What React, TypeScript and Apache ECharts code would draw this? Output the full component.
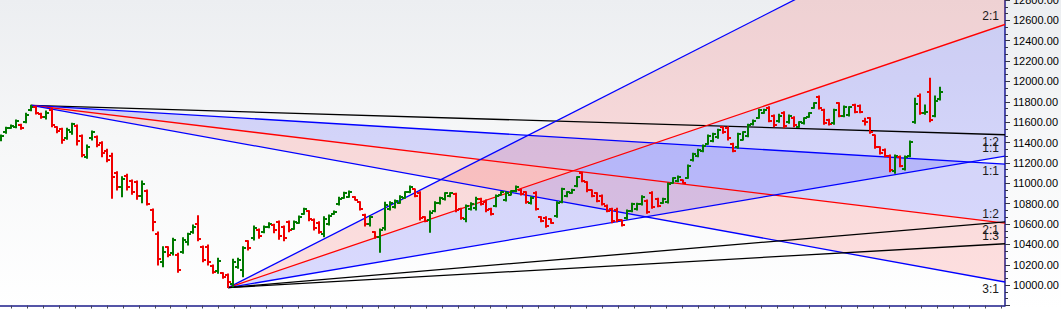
import { useEffect, useRef } from 'react';
import * as echarts from 'echarts';

// [open, high, low, close] per trading bar
const ohlc: number[][] = [
  [11425, 11474, 11418, 11465], [11500, 11550, 11491, 11540], [11545, 11573, 11540, 11565], [11555, 11622, 11546, 11610],
  [11570, 11579, 11530, 11540], [11600, 11687, 11595, 11675], [11720, 11766, 11713, 11750], [11745, 11752, 11681, 11690],
  [11680, 11687, 11638, 11650], [11650, 11710, 11631, 11690], [11720, 11737, 11556, 11570], [11550, 11556, 11497, 11510],
  [11530, 11540, 11393, 11430], [11440, 11540, 11432, 11520], [11500, 11589, 11481, 11580], [11560, 11573, 11376, 11420],
  [11460, 11474, 11261, 11280], [11260, 11376, 11245, 11360], [11440, 11514, 11425, 11500], [11455, 11464, 11359, 11380],
  [11400, 11408, 11261, 11300], [11320, 11334, 11212, 11230], [11270, 11295, 10853, 11060], [11100, 11114, 10934, 10960],
  [10960, 11065, 10868, 11040], [11070, 11088, 10934, 10960], [11020, 11032, 10892, 10910], [11010, 11023, 10843, 10880],
  [10880, 11023, 10810, 10990], [10920, 10934, 10787, 10800], [10740, 10748, 10535, 10620], [10500, 10522, 10198, 10260],
  [10230, 10377, 10181, 10330], [10370, 10377, 10279, 10300], [10320, 10460, 10296, 10440], [10300, 10313, 10126, 10150],
  [10330, 10466, 10313, 10440], [10420, 10509, 10394, 10500], [10520, 10590, 10509, 10570], [10600, 10682, 10436, 10450],
  [10370, 10384, 10230, 10250], [10370, 10394, 10198, 10230], [10190, 10198, 10116, 10130], [10140, 10263, 10116, 10240],
  [10120, 10122, 10067, 10080], [10100, 10109, 9976, 10030], [10010, 10254, 9985, 10230], [10180, 10263, 10165, 10250],
  [10150, 10377, 10083, 10360], [10430, 10436, 10345, 10360], [10460, 10581, 10443, 10560], [10540, 10551, 10460, 10480],
  [10520, 10581, 10515, 10570], [10570, 10613, 10564, 10605], [10590, 10597, 10515, 10540], [10620, 10630, 10450, 10480],
  [10570, 10581, 10436, 10460], [10620, 10630, 10525, 10540], [10555, 10630, 10548, 10620], [10615, 10679, 10607, 10670],
  [10700, 10754, 10696, 10745], [10725, 10731, 10633, 10650], [10640, 10649, 10541, 10560], [10615, 10623, 10509, 10520],
  [10500, 10672, 10476, 10650], [10600, 10689, 10590, 10680], [10700, 10728, 10695, 10722], [10795, 10862, 10787, 10850],
  [10860, 10912, 10853, 10900], [10870, 10924, 10862, 10915], [10865, 10868, 10836, 10840], [10815, 10819, 10738, 10750],
  [10690, 10696, 10581, 10600], [10600, 10679, 10581, 10670], [10520, 10525, 10460, 10470], [10470, 10551, 10322, 10540],
  [10560, 10813, 10541, 10790], [10750, 10819, 10738, 10810], [10770, 10836, 10757, 10825], [10810, 10878, 10804, 10870],
  [10860, 10917, 10852, 10910], [10915, 10973, 10908, 10965], [10940, 10944, 10868, 10880], [10900, 10917, 10640, 10660],
  [10670, 10672, 10623, 10630], [10640, 10728, 10519, 10710], [10730, 10819, 10721, 10810], [10805, 10862, 10797, 10855],
  [10845, 10908, 10836, 10900], [10875, 10908, 10868, 10905], [10895, 10902, 10721, 10740], [10750, 10754, 10646, 10660],
  [10650, 10787, 10623, 10780], [10745, 10810, 10738, 10800], [10760, 10862, 10738, 10850], [10850, 10853, 10787, 10800],
  [10820, 10836, 10721, 10740], [10750, 10754, 10689, 10700], [10780, 10885, 10770, 10875], [10890, 10917, 10885, 10910],
  [10840, 10917, 10826, 10905], [10890, 10927, 10885, 10920], [10920, 10973, 10917, 10965], [10935, 10941, 10885, 10895],
  [10910, 10917, 10804, 10820], [10805, 10868, 10797, 10860], [10900, 10917, 10738, 10750], [10665, 10672, 10623, 10630],
  [10660, 10672, 10568, 10580], [10645, 10649, 10607, 10615], [10675, 10819, 10666, 10810], [10820, 10951, 10810, 10940],
  [10875, 10917, 10868, 10910], [10905, 10941, 10902, 10935], [10975, 11065, 10967, 11060], [11100, 11108, 11016, 11020],
  [11010, 11016, 10917, 10930], [10930, 10934, 10868, 10875], [10900, 10908, 10819, 10830], [10880, 10885, 10787, 10800],
  [10780, 10787, 10721, 10730], [10745, 10754, 10613, 10630], [10740, 10754, 10623, 10640], [10635, 10640, 10581, 10595],
  [10655, 10738, 10646, 10730], [10730, 10804, 10721, 10795], [10745, 10804, 10738, 10795], [10795, 10878, 10787, 10870],
  [10830, 10836, 10705, 10720], [10905, 10917, 10754, 10770], [10845, 10853, 10770, 10780], [10810, 10853, 10804, 10845],
  [10815, 11003, 10807, 10990], [11005, 11055, 11000, 11050], [11020, 11072, 11016, 11065], [11030, 11032, 11000, 11005],
  [11055, 11180, 11049, 11170], [11225, 11295, 11219, 11285], [11270, 11334, 11261, 11325], [11320, 11376, 11310, 11370],
  [11390, 11474, 11383, 11465], [11415, 11491, 11408, 11485], [11450, 11530, 11442, 11520], [11550, 11556, 11491, 11500],
  [11545, 11556, 11425, 11440], [11385, 11393, 11310, 11320], [11360, 11491, 11344, 11480], [11430, 11507, 11425, 11500],
  [11465, 11579, 11458, 11570], [11580, 11622, 11573, 11615], [11645, 11727, 11638, 11720], [11690, 11727, 11687, 11720],
  [11740, 11752, 11605, 11615], [11660, 11671, 11556, 11570], [11610, 11678, 11599, 11665], [11695, 11703, 11546, 11560],
  [11600, 11671, 11589, 11665], [11645, 11654, 11556, 11570], [11555, 11605, 11550, 11600], [11590, 11644, 11582, 11640],
  [11650, 11693, 11648, 11690], [11740, 11792, 11736, 11785], [11845, 11857, 11730, 11740], [11720, 11727, 11579, 11590],
  [11620, 11628, 11573, 11580], [11590, 11727, 11579, 11720], [11785, 11792, 11654, 11665], [11665, 11759, 11654, 11750],
  [11670, 11752, 11661, 11745], [11770, 11776, 11693, 11700], [11760, 11769, 11693, 11705], [11610, 11638, 11573, 11600],
  [11640, 11644, 11491, 11500], [11470, 11474, 11344, 11355], [11355, 11359, 11288, 11295], [11330, 11337, 11261, 11270],
  [11270, 11278, 11114, 11130], [11120, 11278, 11098, 11270], [11260, 11268, 11163, 11170], [11140, 11268, 11131, 11260],
  [11270, 11415, 11261, 11405], [11600, 11835, 11589, 11780], [11860, 11877, 11678, 11690], [11690, 11769, 11678, 11700],
  [11900, 12031, 11605, 11620], [11665, 11857, 11654, 11810], [11830, 11943, 11818, 11900],
];

// Gann fan from the swing high (descending) and from the swing low (ascending)
const highPivotBar = 6;
const highPivotPrice = 11766;
const highUnit = 3.0; // price per bar for 1:1
const highFanRatios = ['1:2', '1:1', '2:1', '3:1'];
const highFanMultipliers = [0.5, 1, 2, 3];
const highFanBands = [['1:1', '2:1'], ['2:1', '3:1']];

const lowPivotBar = 45;
const lowPivotPrice = 9976;
const lowUnit = 8.4;
const lowFanRatios = ['3:1', '2:1', '1:1', '1:2', '1:3'];
const lowFanMultipliers = [3, 2, 1, 0.5, 0.3333];
const lowFanBands = [['3:1', '2:1'], ['2:1', '1:1']];

const yMin = 9800;
const yMax = 12800;
const yStep = 200;
const xMin = -0.2;
const xMax = 198.8;

// styles
const highLineColors = ['#000000', '#0000ff', '#ff0000', '#0000ff'];
const lowLineColors = ['#0000ff', '#ff0000', '#0000ff', '#000000', '#000000'];
const highBandFills = ['rgba(0,0,255,0.14)', 'rgba(255,0,0,0.12)'];
const lowBandFills = ['rgba(255,0,0,0.12)', 'rgba(0,0,255,0.14)'];
const UP = '#007a00';
const DOWN = '#f00000';

export default function App() {
  const ref = useRef<HTMLDivElement>(null);
  useEffect(() => {
    document.body.style.margin = '0';
    const chart = echarts.init(ref.current as HTMLDivElement, null, { renderer: 'svg' });

    const hEnd = (m: number) => highPivotPrice - m * highUnit * (xMax - highPivotBar);
    const lEnd = (m: number) => lowPivotPrice + m * lowUnit * (xMax - lowPivotBar);

    const lineData: number[][] = [];
    const lineMeta: { label: string; color: string; above: boolean }[] = [];
    highFanMultipliers.forEach((m, k) => {
      lineData.push([highPivotBar, highPivotPrice, xMax, hEnd(m)]);
      lineMeta.push({ label: highFanRatios[k], color: highLineColors[k], above: false });
    });
    lowFanMultipliers.forEach((m, k) => {
      lineData.push([lowPivotBar, lowPivotPrice, xMax, lEnd(m)]);
      lineMeta.push({ label: lowFanRatios[k], color: lowLineColors[k], above: true });
    });

    const bandData: number[][] = [];
    const bandFill: string[] = [];
    highFanBands.forEach((b, k) => {
      const a = highFanMultipliers[highFanRatios.indexOf(b[0])];
      const c = highFanMultipliers[highFanRatios.indexOf(b[1])];
      bandData.push([highPivotBar, highPivotPrice, xMax, hEnd(a), hEnd(c)]);
      bandFill.push(highBandFills[k]);
    });
    lowFanBands.forEach((b, k) => {
      const a = lowFanMultipliers[lowFanRatios.indexOf(b[0])];
      const c = lowFanMultipliers[lowFanRatios.indexOf(b[1])];
      bandData.push([lowPivotBar, lowPivotPrice, xMax, lEnd(a), lEnd(c)]);
      bandFill.push(lowBandFills[k]);
    });

    const xTicks: number[] = [];
    for (let k = 0; k < 64; k++) xTicks.push(1.98 + k * 3.1625);

    const option: any = {
      animation: false,
      backgroundColor: 'transparent',
      grid: { left: 0, right: 56, top: 0, bottom: 3.5, containLabel: false, outerBoundsMode: 'none' },
      xAxis: {
        type: 'value',
        min: xMin,
        max: xMax,
        axisLine: { show: true, onZero: false, lineStyle: { color: '#1c1c8a', width: 1.5 } },
        axisTick: { show: true, length: 3, customValues: xTicks, lineStyle: { color: '#44445a' } },
        axisLabel: { show: false },
        splitLine: { show: false },
      },
      yAxis: {
        type: 'value',
        position: 'right',
        min: yMin,
        max: yMax,
        interval: yStep,
        axisLine: { show: true, onZero: false, lineStyle: { color: '#1c1c8a', width: 1.5 } },
        axisTick: { show: true, length: 5, lineStyle: { color: '#333344' } },
        minorTick: { show: true, splitNumber: 3, length: 3, lineStyle: { color: '#333344' } },
        splitLine: { show: false },
        axisLabel: {
          margin: 8,
          color: '#000',
          fontSize: 11,
          fontFamily: 'Liberation Sans, Arial, sans-serif',
          showMinLabel: false,
          formatter: (v: number) => v.toFixed(2),
        },
      },
      series: [
        {
          type: 'custom',
          z: 1,
          clip: true,
          silent: true,
          data: bandData,
          encode: { x: [0, 2], y: [1, 3, 4] },
          renderItem: (params: any, api: any) => {
            const p0 = api.coord([api.value(0), api.value(1)]);
            const pa = api.coord([api.value(2), api.value(3)]);
            const pb = api.coord([api.value(2), api.value(4)]);
            return {
              type: 'polygon',
              shape: { points: [p0, pa, pb] },
              style: { fill: bandFill[params.dataIndex], stroke: 'none' },
            };
          },
        },
        {
          type: 'custom',
          z: 2,
          clip: true,
          silent: true,
          data: lineData,
          encode: { x: [0, 2], y: [1, 3] },
          renderItem: (params: any, api: any) => {
            const meta = lineMeta[params.dataIndex];
            const p0 = api.coord([api.value(0), api.value(1)]);
            const p1 = api.coord([api.value(2), api.value(3)]);
            const children: any[] = [
              {
                type: 'line',
                shape: { x1: p0[0], y1: p0[1], x2: p1[0], y2: p1[1] },
                style: { stroke: meta.color, lineWidth: 1.3 },
              },
            ];
            const endInside = api.value(3) <= yMax && api.value(3) >= yMin;
            if (endInside) {
              children.push({
                type: 'text',
                x: p1[0] - 6,
                y: meta.above ? p1[1] - 2 : p1[1] + 1,
                style: {
                  text: meta.label,
                  align: 'right',
                  verticalAlign: meta.above ? 'bottom' : 'top',
                  textAlign: 'right',
                  textVerticalAlign: meta.above ? 'bottom' : 'top',
                  fill: '#1a1a1a',
                  fontSize: 12,
                  fontFamily: 'Liberation Sans, Arial, sans-serif',
                },
              });
            }
            return { type: 'group', children };
          },
        },
        {
          type: 'custom',
          z: 3,
          clip: true,
          silent: true,
          data: ohlc.map((b, i) => [i, b[0], b[1], b[2], b[3]]),
          encode: { x: 0, y: [1, 2, 3, 4] },
          renderItem: (params: any, api: any) => {
            const i = api.value(0);
            const o = api.value(1);
            const h = api.value(2);
            const l = api.value(3);
            const c = api.value(4);
            const pH = api.coord([i, h]);
            const pL = api.coord([i, l]);
            const pO = api.coord([i, o]);
            const pC = api.coord([i, c]);
            const color = c >= o ? UP : DOWN;
            const x = Math.round(pH[0]);
            const st = { stroke: color, lineWidth: 2 };
            const yO = Math.round(pO[1]);
            const yC = Math.round(pC[1]);
            return {
              type: 'group',
              children: [
                { type: 'line', shape: { x1: x, y1: pH[1] - 0.5, x2: x, y2: pL[1] + 0.5 }, style: st },
                { type: 'line', shape: { x1: x - 3, y1: yO, x2: x, y2: yO }, style: st },
                { type: 'line', shape: { x1: x, y1: yC, x2: x + 3, y2: yC }, style: st },
              ],
            };
          },
        },
      ],
    };
    chart.setOption(option);
    return () => chart.dispose();
  }, []);
  return (
    <div
      ref={ref}
      style={{
        position: 'absolute',
        left: 0,
        top: 0,
        width: 1061,
        height: 309,
        background: 'linear-gradient(to bottom, #eceef1 0%, #f6f7f8 45%, #ffffff 100%)',
      }}
    />
  );
}
